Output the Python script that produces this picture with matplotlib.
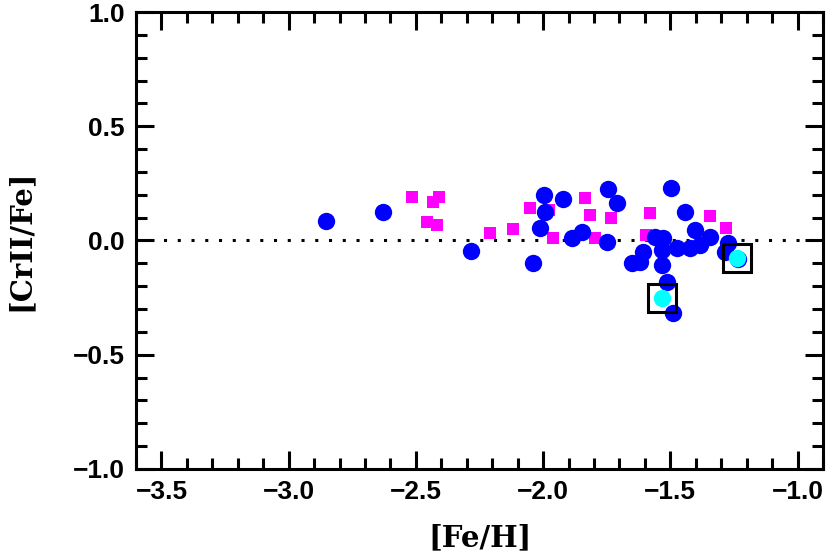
import matplotlib
matplotlib.use('Agg')
import matplotlib.pyplot as plt
from matplotlib.ticker import MultipleLocator

# [Fe/H], [CrII/Fe]
feh_blue = [-2.853, -2.629, -2.283, -2.040, -1.996, -1.992, -2.012, -1.922,
            -1.886, -1.847, -1.745, -1.709, -1.749, -1.650, -1.619, -1.607,
            -1.560, -1.528, -1.532, -1.532, -1.513, -1.489, -1.497, -1.442,
            -1.473, -1.422, -1.383, -1.403, -1.344, -1.273, -1.285, -1.234]
cr_blue = [0.085, 0.125, -0.046, -0.098, 0.199, 0.125, 0.055, 0.182,
           0.011, 0.037, 0.225, 0.164, -0.007, -0.098, -0.094, -0.050,
           0.015, 0.011, -0.042, -0.107, -0.182, -0.317, 0.230, 0.125,
           -0.033, -0.033, -0.020, 0.046, 0.015, -0.011, -0.050, -0.081]

feh_mag = [-2.515, -2.433, -2.409, -2.456, -2.417, -2.208, -2.118, -2.051,
           -1.977, -1.961, -1.835, -1.815, -1.796, -1.733, -1.580, -1.595,
           -1.344, -1.281]
cr_mag = [0.190, 0.168, 0.190, 0.081, 0.068, 0.033, 0.050, 0.142,
          0.133, 0.011, 0.186, 0.112, 0.011, 0.098, 0.120, 0.024,
          0.107, 0.055]

feh_cyan = [-1.532, -1.238]
cr_cyan = [-0.252, -0.077]

plt.rcParams['font.family'] = ['Liberation Sans', 'DejaVu Sans']
plt.rcParams['font.weight'] = 'bold'

fig = plt.figure(figsize=(8.3, 5.53), dpi=100)
ax = fig.add_axes([0.1639, 0.1519, 0.8277, 0.8264])

ax.axhline(0.0, color='black', lw=2.2, linestyle=(0, (1, 3.5)), zorder=1)
ax.plot(feh_mag, cr_mag, 's', color='#ff00ff', ms=8, mew=0, zorder=2)
ax.plot(feh_blue, cr_blue, 'o', color='#0000ff', ms=12.5, mew=0, zorder=3)
ax.plot(feh_cyan, cr_cyan, 'o', color='#00ffff', ms=12.5, mew=0, zorder=4)
ax.plot(feh_cyan, cr_cyan, 's', mfc='none', mec='black', ms=19.5, mew=2.2, zorder=5)

ax.set_xlim(-3.6, -0.9)
ax.set_ylim(-1.0, 1.0)
ax.xaxis.set_major_locator(MultipleLocator(0.5))
ax.xaxis.set_minor_locator(MultipleLocator(0.1))
ax.yaxis.set_major_locator(MultipleLocator(0.5))
ax.yaxis.set_minor_locator(MultipleLocator(0.1))
ax.tick_params(which='both', direction='in', top=True, right=True, width=2.2,
               labelsize=19, pad=8)
ax.tick_params(which='major', length=13)
ax.tick_params(which='minor', length=8)
for s in ax.spines.values():
    s.set_linewidth(2.2)

ax.set_xlabel('[Fe/H]', family='DejaVu Serif', fontweight='bold', fontsize=21)
ax.set_ylabel('[CrII/Fe]', family='DejaVu Serif', fontweight='bold', fontsize=21)
ax.xaxis.set_label_coords(0.5, -0.12)
ax.yaxis.set_label_coords(-0.148, 0.5)

fig.savefig('out.png', dpi=100)
